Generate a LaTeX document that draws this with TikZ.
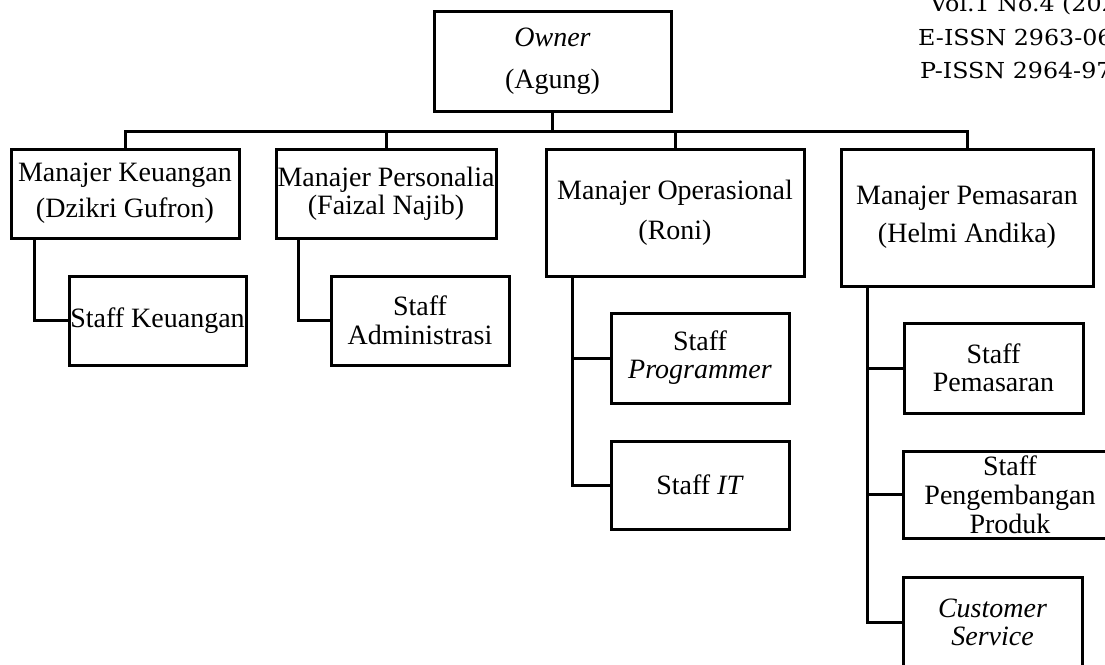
\documentclass[tikz,border=0pt]{standalone}
\usepackage{fontspec}
\setmainfont{Liberation Serif}
\newfontfamily\hdrfont[FakeStretch=1.08]{DejaVu Serif}
\begin{document}
\begin{tikzpicture}[x=1pt,y=-1pt,
  box/.style={draw=black, line width=3pt, inner sep=0pt, align=center,
    font=\fontsize{28}{28}\selectfont},
  link/.style={draw=black, line width=3pt},
  hdr/.style={anchor=base west, inner sep=0pt, font=\hdrfont\fontsize{22}{22}\selectfont}]
\useasboundingbox (0,0) rectangle (1105,664);
\clip (0,0) rectangle (1105,664);
\fill[white] (0,0) rectangle (1105,664);

% header text (cut by page edge, as in the reference)
\node[hdr] (h1) at (930,11) {Vol.1 No.4 (2023)};
\node[hdr] (h2) at (918,45) {E-ISSN 2963-0679};
\node[hdr] (h3) at (920,78) {P-ISSN 2964-9730};

% boxes
\node[box, minimum width=237pt, minimum height=100pt] (owner) at (552.5,61) {\itshape Owner\\[14pt](Agung)};
\node[box, minimum width=228pt, minimum height=89pt] (mk) at (125,193.5) {Manajer Keuangan\\[8pt](Dzikri Gufron)};
\node[box, minimum width=220pt, minimum height=89pt] (mp) at (386,193.5) {Manajer Personalia\\(Faizal Najib)};
\node[box, minimum width=258pt, minimum height=127pt] (mo) at (675,212.5) {Manajer Operasional\\[12pt](Roni)};
\node[box, minimum width=252pt, minimum height=137pt] (mpem) at (967,217.5) {Manajer Pemasaran\\[10pt](Helmi Andika)};

\node[box, minimum width=177pt, minimum height=89pt] (sk) at (157.5,320.5) {Staff Keuangan};
\node[box, minimum width=178pt, minimum height=89pt] (sa) at (420,320.5) {Staff\\[1pt]Administrasi};
\node[box, minimum width=178pt, minimum height=90pt] (sp) at (700,358) {Staff\\\textit{Programmer}};
\node[box, minimum width=178pt, minimum height=88pt] (sit) at (700,485) {Staff \textit{IT}};
\node[box, minimum width=179pt, minimum height=90pt] (spem) at (993.5,368) {Staff\\Pemasaran};
\node[box, minimum width=214pt, minimum height=87pt] (speng) at (1010,494.5) {Staff\\[1pt]Pengembangan\\[1pt]Produk};
\node[box, minimum width=179pt, minimum height=90pt] (cs) at (992.5,622) {\itshape Customer\\\itshape Service};

% bus
\coordinate (bus) at (0,131);
\coordinate (tmk) at (34,0);
\coordinate (tmp) at (298,0);
\coordinate (tmo) at (572,0);
\coordinate (tmpem) at (867,0);

\draw[link] (mk.north) -- (mk.north |- bus) -- (mpem.north |- bus) -- (mpem.north);
\draw[link] (owner.south) -- (owner.south |- bus);
\draw[link] (mp.north) -- (mp.north |- bus);
\draw[link] (mo.north) -- (mo.north |- bus);

% staff links
\draw[link] (tmk |- mk.south) |- (sk.west);
\draw[link] (tmp |- mp.south) |- (sa.west);
\draw[link] (tmo |- mo.south) |- (sit.west);
\draw[link] (tmo |- sp.west) -- (sp.west);
\draw[link] (tmpem |- mpem.south) |- (cs.west);
\draw[link] (tmpem |- spem.west) -- (spem.west);
\draw[link] (tmpem |- speng.west) -- (speng.west);
\end{tikzpicture}
\end{document}
